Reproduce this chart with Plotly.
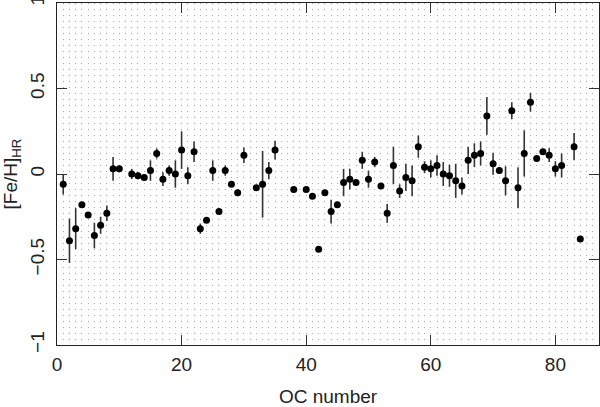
import plotly.graph_objects as go

# OC number, [Fe/H]_HR and its error
oc_number = [1, 2, 3, 4, 5, 6, 7, 8, 9, 10,
             12, 13, 14, 15, 16, 17, 18, 19, 20, 21,
             22, 23, 24, 25, 26, 27, 28, 29, 30, 32,
             33, 34, 35, 38, 40, 41, 42, 43, 44, 45,
             46, 47, 48, 49, 50, 51, 52, 53, 54, 55,
             56, 57, 58, 59, 60, 61, 62, 63, 64, 65,
             66, 67, 68, 69, 70, 71, 72, 73, 74, 75,
             76, 77, 78, 79, 80, 81, 83, 84]
feh = [-0.06, -0.39, -0.32, -0.18, -0.24, -0.36, -0.30, -0.23, 0.03, 0.03,
       0.00, -0.01, -0.02, 0.02, 0.12, -0.03, 0.02, 0.00, 0.14, -0.01,
       0.13, -0.32, -0.27, 0.02, -0.22, 0.02, -0.06, -0.11, 0.11, -0.08,
       -0.06, 0.02, 0.14, -0.09, -0.09, -0.13, -0.44, -0.11, -0.22, -0.18,
       -0.05, -0.03, -0.05, 0.08, -0.03, 0.07, -0.07, -0.23, 0.05, -0.10,
       -0.02, -0.04, 0.16, 0.04, 0.03, 0.05, 0.00, -0.01, -0.04, -0.07,
       0.08, 0.11, 0.12, 0.34, 0.06, 0.02, -0.04, 0.37, -0.08, 0.12,
       0.42, 0.09, 0.13, 0.11, 0.03, 0.05, 0.16, -0.38]
feh_err = [0.06, 0.13, 0.12, 0.0, 0.0, 0.075, 0.05, 0.045, 0.07, 0.02,
           0.03, 0.02, 0.02, 0.06, 0.03, 0.04, 0.03, 0.08, 0.11, 0.05,
           0.06, 0.03, 0.0, 0.06, 0.0, 0.03, 0.0, 0.02, 0.045, 0.0,
           0.195, 0.05, 0.055, 0.0, 0.0, 0.0, 0.0, 0.0, 0.07, 0.0,
           0.08, 0.06, 0.02, 0.05, 0.05, 0.03, 0.0, 0.055, 0.11, 0.04,
           0.08, 0.09, 0.065, 0.035, 0.05, 0.06, 0.07, 0.065, 0.1, 0.05,
           0.08, 0.07, 0.07, 0.11, 0.065, 0.02, 0.085, 0.05, 0.12, 0.135,
           0.055, 0.0, 0.0, 0.04, 0.045, 0.07, 0.08, 0.0]

x_ticks = [0, 20, 40, 60, 80]
y_ticks = [-1, -0.5, 0, 0.5, 1]
y_ticklabels = ["\u22121", "\u22120.5", "0", "0.5", "1"]

fig = go.Figure()
fig.add_trace(go.Scatter(
    x=oc_number,
    y=feh,
    mode="markers",
    marker=dict(color="black", size=7),
    error_y=dict(type="data", array=feh_err, visible=True,
                 color="#333333", thickness=1.6, width=0),
    showlegend=False,
))

axis_font = dict(family="Liberation Sans, Arial, sans-serif", size=19, color="#222222")

fig.update_layout(
    width=600,
    height=407,
    margin=dict(l=57, r=1, t=3, b=62),
    paper_bgcolor="white",
    plot_bgcolor="white",
    font=axis_font,
    xaxis=dict(
        range=[0, 87],
        tickvals=x_ticks,
        ticks="inside",
        ticklen=10,
        tickcolor="#333333",
        ticklabelstandoff=2,
        showline=True,
        linecolor="#222222",
        linewidth=1.2,
        mirror="ticks",
        showgrid=False,
        # colonnes pointillées, une par numéro d'OC
        minor=dict(dtick=1, tick0=0, showgrid=True, gridcolor="#a8a8a8",
                   gridwidth=1, griddash="1px,5px", ticks=""),
        zeroline=False,
        automargin=False,
        title=dict(text="OC number", font=axis_font, standoff=22),
    ),
    yaxis=dict(
        range=[-1.0005, 1.0005],
        tickvals=y_ticks,
        ticktext=y_ticklabels,
        tickangle=-90,
        ticks="inside",
        ticklen=10,
        tickcolor="#333333",
        ticklabelstandoff=4,
        ticklabeloverflow="allow",
        showline=True,
        linecolor="#222222",
        linewidth=1.2,
        mirror="ticks",
        showgrid=False,
        zeroline=False,
        automargin=False,
        title=dict(text="[Fe/H]<sub>HR</sub>", font=axis_font, standoff=6),
    ),
)

# la page par défaut a une marge de 8 px sur le body : on la retire
fig.write_html("out.html", config={"displayModeBar": False},
               post_script="document.body.style.margin='0';")
